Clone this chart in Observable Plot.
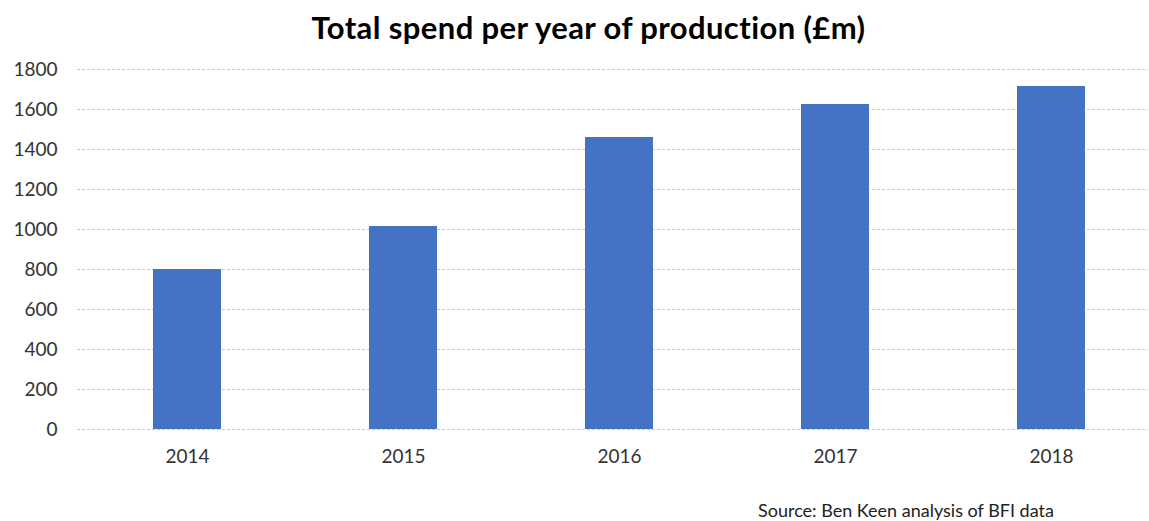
<!DOCTYPE html>
<html>
<head>
<meta charset="utf-8">
<script src="https://cdn.jsdelivr.net/npm/d3@7"></script>
<script src="https://cdn.jsdelivr.net/npm/@observablehq/plot@0.6"></script>
<style>
  html, body { margin: 0; padding: 0; background: #fff; }
  body { width: 1149px; height: 521px; overflow: hidden; font-family: Lato, "Open Sans", sans-serif; }
  #title { height: 55px; line-height: 55px; font-size: 31px; letter-spacing: 0.4px; font-weight: bold; color: #000; text-align: center; padding-left: 28px; box-sizing: border-box; }
  #caption { height: 31px; font-size: 18px; color: #222; padding-left: 758px; padding-top: 10px; box-sizing: border-box; line-height: 20px; white-space: nowrap; }
</style>
</head>
<body>
<div id="title">Total spend per year of production (£m)</div>
<div id="chart"></div>
<div id="caption">Source: Ben Keen analysis of BFI data</div>
<script>
const years = ["2014", "2015", "2016", "2017", "2018"];
const spend = [800, 1015, 1460, 1625, 1715];
const yTicks = [0, 200, 400, 600, 800, 1000, 1200, 1400, 1600, 1800];

const data = years.map((y, i) => ({year: y, value: spend[i]}));

const chart = Plot.plot({
  width: 1149,
  height: 435,
  marginTop: 14,
  marginBottom: 61,
  marginLeft: 77,
  marginRight: 1,
  style: {fontFamily: "Lato, 'Open Sans', sans-serif", fontSize: "19px", color: "#333", background: "#fff"},
  x: {domain: years, range: [78, 1160], paddingInner: 0.686, paddingOuter: 0.343, align: 0.5, label: null},
  y: {domain: [0, 1800], label: null},
  marks: [
    Plot.gridY(yTicks, {stroke: "#c8c8c8", strokeOpacity: 1, strokeDasharray: "3,2"}),
    Plot.barY(data, {x: "year", y: "value", fill: "#4472C4"}),
    Plot.axisY(yTicks, {tickSize: 0, tickPadding: 20, fontSize: 19, fill: "#333", tickFormat: d => String(d)}),
    Plot.axisX({tickSize: 0, tickPadding: 20, fontSize: 19, fill: "#333"})
  ]
});
document.getElementById("chart").appendChild(chart);
</script>
</body>
</html>
